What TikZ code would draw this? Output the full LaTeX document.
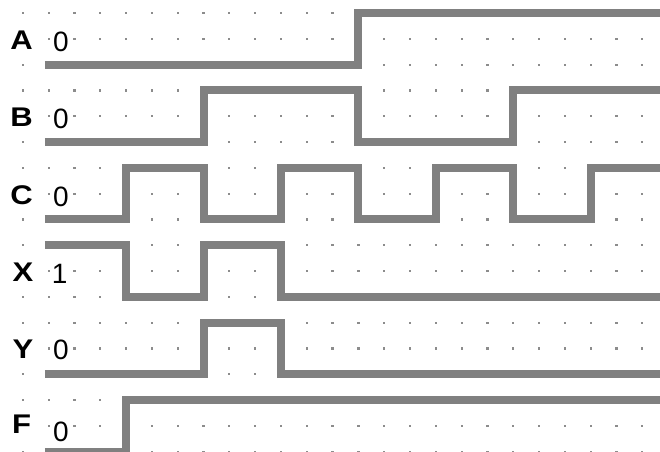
\documentclass[tikz,border=0pt]{standalone}
\usepackage{fontspec}
\setmainfont{Liberation Sans}
\usepackage{graphicx}
\usetikzlibrary{positioning}
\definecolor{wavegray}{RGB}{128,128,128}
\definecolor{dotgray}{RGB}{140,140,140}

\begin{document}
\begin{tikzpicture}[x=25.8pt, y=-25.8pt,
  wave/.style={line width=8pt, wavegray, line join=miter, line cap=butt},
  sig/.style={font=\fontsize{27}{27}\selectfont\bfseries, fill=white, inner sep=0.5pt},
  lvl/.style={font=\fontsize{28}{28}\selectfont, inner sep=0pt}]
  % frame
  \useasboundingbox (-0.891,-0.504) rectangle (24.69,16.98);
  \clip (-0.891,-0.504) rectangle (24.69,16.98);

  % dot grid
  \foreach \i in {0,...,24}
    \foreach \j in {0,...,17}
      \fill[dotgray] (\i,\j) ++(-1.1pt,-1.1pt) rectangle ++(2.2pt,2.2pt);

  % signal names and start values
  \node[sig] (labA) at (-0.05,1.05) {\scalebox{1.15}[1]{A}};
  \node[lvl] (valA) at (1.47,1.12) {0};
  \node[sig] (labB) at (-0.05,4.05) {\scalebox{1.15}[1]{B}};
  \node[lvl] (valB) at (1.47,4.12) {0};
  \node[sig] (labC) at (-0.05,7.05) {\scalebox{1.15}[1]{C}};
  \node[lvl] (valC) at (1.47,7.12) {0};
  \node[sig] (labX) at (0,10.05) {\scalebox{1.15}[1]{X}};
  \node[lvl] (valX) at (1.42,10.1) {1};
  \node[sig] (labY) at (0,13.05) {\scalebox{1.15}[1]{Y}};
  \node[lvl] (valY) at (1.47,13.05) {0};
  \node[sig] (labF) at (-0.05,15.95) {\scalebox{1.15}[1]{F}};
  \node[lvl] (valF) at (1.47,16.25) {0};

  % A
  \draw[wave] (0.853,2) -- (13,2) -- (13,0) -- (25,0);
  % B
  \draw[wave] (0.853,5) -- (7,5) -- (7,3) -- (13,3) -- (13,5) -- (19,5) -- (19,3) -- (25,3);
  % C
  \draw[wave] (0.853,8) -- (4,8) -- (4,6) -- (7,6) -- (7,8) -- (10,8) -- (10,6) -- (13,6)
    -- (13,8) -- (16,8) -- (16,6) -- (19,6) -- (19,8) -- (22,8) -- (22,6) -- (25,6);
  % X
  \draw[wave] (0.853,9) -- (4,9) -- (4,11) -- (7,11) -- (7,9) -- (10,9) -- (10,11) -- (25,11);
  % Y
  \draw[wave] (0.853,14) -- (7,14) -- (7,12) -- (10,12) -- (10,14) -- (25,14);
  % F
  \draw[wave] (0.853,17) -- (4,17) -- (4,15) -- (25,15);
\end{tikzpicture}
\end{document}
